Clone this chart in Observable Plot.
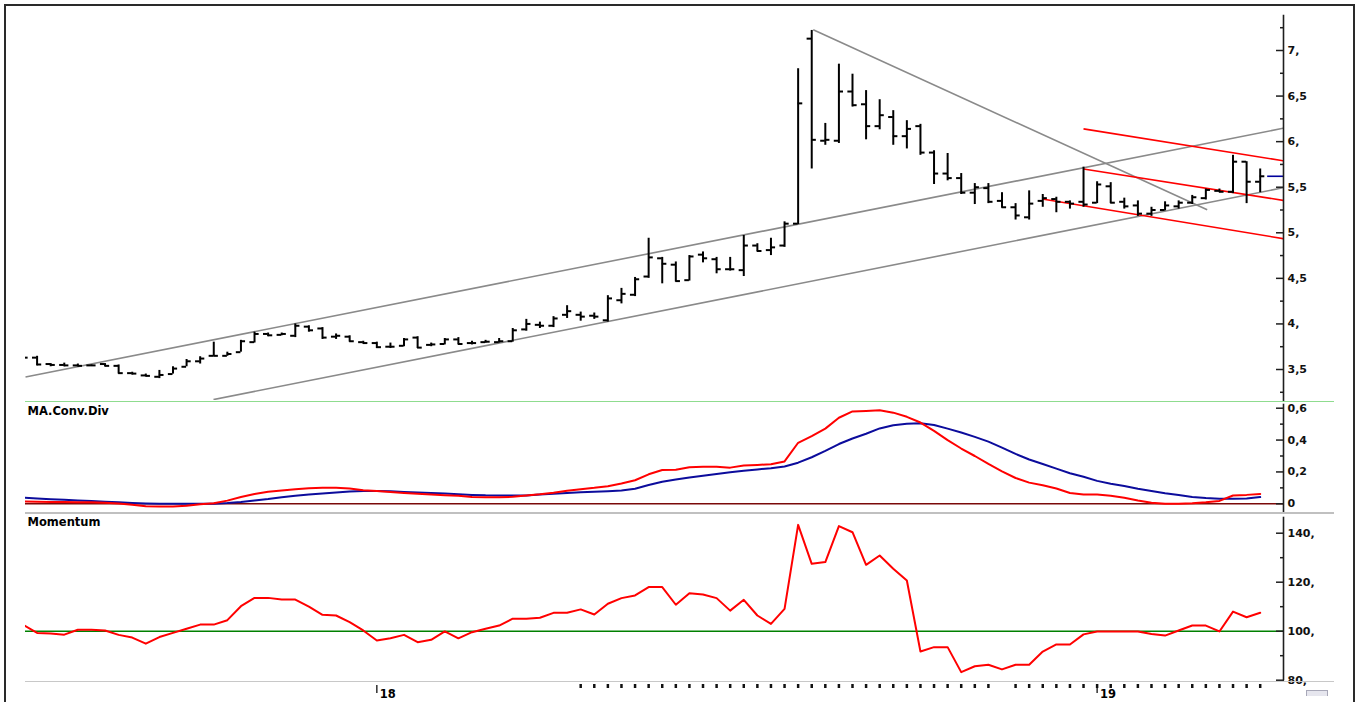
<!DOCTYPE html>
<html><head><meta charset="utf-8">
<script src="https://cdn.jsdelivr.net/npm/d3@7"></script>
<script src="https://cdn.jsdelivr.net/npm/@observablehq/plot@0.6"></script>
<style>
html,body{margin:0;padding:0;background:#fff;}
#chart{position:relative;width:1365px;height:702px;overflow:hidden;background:#fff;}
.deco{position:absolute;pointer-events:none;}
</style></head><body><div id="chart"></div>
<script>
// ---- weekly OHLC (bar index 0..91) ----
const opens = [3.66,3.63,3.56,3.55,3.545,3.545,3.56,3.54,3.46,3.435,
3.42,3.45,3.53,3.59,3.65,3.65,3.69,3.80,3.89,3.88,
3.87,3.97,3.95,3.86,3.86,3.80,3.79,3.75,3.76,3.85,
3.77,3.78,3.83,3.79,3.80,3.80,3.81,3.94,3.99,3.98,
4.10,4.10,4.09,4.04,4.26,4.32,4.52,4.72,4.65,4.48,
4.76,4.71,4.60,4.59,4.86,4.81,4.86,5.10,7.13,6.01,
6.01,6.55,6.41,6.17,6.27,6.06,6.17,5.88,5.65,5.60,
5.44,5.49,5.35,5.28,5.17,5.35,5.37,5.34,5.34,5.33,
5.51,5.34,5.30,5.21,5.25,5.29,5.33,5.38,5.46,5.45,
5.78,5.56];
const highs = [3.67,3.645,3.565,3.57,3.56,3.55,3.565,3.55,3.47,3.45,
3.49,3.53,3.61,3.64,3.80,3.69,3.82,3.91,3.90,3.90,
4.00,3.98,3.96,3.89,3.87,3.81,3.80,3.79,3.84,3.86,
3.79,3.84,3.85,3.81,3.82,3.84,3.95,4.05,4.02,4.08,
4.20,4.13,4.12,4.31,4.39,4.51,4.94,4.73,4.68,4.75,
4.79,4.73,4.73,4.97,4.88,4.94,5.12,6.80,7.22,6.20,
6.85,6.74,6.56,6.46,6.34,6.23,6.19,5.90,5.87,5.65,
5.54,5.54,5.44,5.32,5.46,5.42,5.39,5.35,5.72,5.56,
5.55,5.38,5.35,5.28,5.34,5.35,5.41,5.48,5.48,5.85,
5.78,5.70];
const lows = [3.62,3.54,3.53,3.53,3.53,3.535,3.53,3.45,3.44,3.42,
3.40,3.45,3.53,3.56,3.645,3.645,3.69,3.79,3.86,3.87,
3.85,3.91,3.83,3.83,3.80,3.78,3.73,3.73,3.75,3.73,
3.75,3.77,3.77,3.77,3.79,3.79,3.80,3.92,3.95,3.96,
4.06,4.03,4.05,4.02,4.22,4.30,4.50,4.44,4.46,4.47,
4.67,4.55,4.58,4.52,4.79,4.75,4.84,5.09,5.70,5.96,
5.98,6.38,6.02,6.13,5.96,5.92,5.85,5.53,5.57,5.42,
5.31,5.32,5.27,5.14,5.14,5.28,5.22,5.26,5.28,5.32,
5.32,5.26,5.18,5.18,5.24,5.26,5.31,5.36,5.44,5.43,
5.32,5.44];
const closes = [3.63,3.555,3.55,3.545,3.54,3.545,3.54,3.46,3.455,3.43,
3.44,3.51,3.59,3.62,3.65,3.67,3.81,3.89,3.875,3.89,
3.98,3.93,3.85,3.87,3.81,3.79,3.745,3.75,3.83,3.74,
3.775,3.83,3.78,3.79,3.805,3.81,3.93,4.00,3.98,4.06,
4.14,4.08,4.08,4.28,4.33,4.49,4.73,4.66,4.47,4.74,
4.72,4.60,4.60,4.86,4.80,4.84,5.10,6.42,6.02,6.02,
6.55,6.40,6.17,6.29,6.06,6.14,5.88,5.65,5.60,5.44,
5.50,5.34,5.28,5.19,5.32,5.38,5.34,5.32,5.31,5.53,
5.33,5.29,5.21,5.25,5.30,5.33,5.39,5.47,5.45,5.78,
5.56,5.62];

// ---- MACD (red) and signal (blue) ----
const macd = [0.015,0.013,0.012,0.011,0.010,0.009,0.007,0.002,-0.006,-0.015,
-0.017,-0.017,-0.012,-0.003,0.004,0.02,0.043,0.062,0.075,0.084,
0.092,0.098,0.1,0.1,0.096,0.085,0.08,0.074,0.068,0.063,
0.058,0.054,0.05,0.042,0.041,0.041,0.044,0.052,0.06,0.07,
0.082,0.092,0.1,0.11,0.128,0.148,0.185,0.212,0.214,0.23,
0.233,0.233,0.227,0.24,0.244,0.248,0.266,0.383,0.425,0.472,
0.54,0.58,0.583,0.587,0.572,0.546,0.51,0.458,0.40,0.347,
0.3,0.25,0.204,0.162,0.133,0.116,0.096,0.068,0.058,0.058,
0.05,0.038,0.021,0.007,0.001,0,0.004,0.01,0.018,0.052,
0.056,0.062];
const signal = [0.038,0.033,0.029,0.025,0.021,0.017,0.013,0.009,0.005,0.002,
0,0,0,0,0.001,0.005,0.012,0.021,0.03,0.041,
0.05,0.058,0.065,0.071,0.077,0.08,0.08,0.078,0.074,0.071,
0.068,0.064,0.06,0.056,0.053,0.052,0.052,0.052,0.058,0.063,
0.068,0.072,0.075,0.079,0.084,0.095,0.118,0.138,0.152,0.165,
0.176,0.187,0.198,0.208,0.216,0.223,0.234,0.258,0.292,0.332,
0.375,0.41,0.44,0.473,0.493,0.502,0.506,0.495,0.472,0.447,
0.42,0.39,0.353,0.313,0.278,0.25,0.221,0.192,0.17,0.144,
0.126,0.112,0.095,0.081,0.066,0.055,0.043,0.036,0.031,0.031,
0.034,0.042];

// ---- Momentum ----
const momentum = [102.5,99.3,99.1,98.6,100.6,100.6,100.3,98.5,97.4,94.9,
97.6,99.3,101,102.7,102.7,104.5,110.2,113.6,113.6,112.9,
112.9,110,106.7,106.4,103.7,100.3,96.2,97.1,98.5,95.5,
96.5,99.9,97.1,99.6,101,102.3,105.1,105.1,105.5,107.5,
107.5,108.9,106.8,111.2,113.5,114.6,118,118,110.8,115.5,
115,113.5,108.4,112.8,106.4,103,109.1,143.4,127.5,128.2,
142.9,140.4,127.1,130.9,125.5,120.7,91.7,93.5,93.5,83.3,
85.7,86.3,84.4,86.3,86.3,91.7,94.6,94.6,98.7,99.9,
99.9,99.9,99.9,98.9,98.2,100.3,102.3,102.3,99.9,108,
105.7,107.5];

// ---- trend lines: [startIndex, startPrice, endIndex, endPrice] ----
const grayTrends = [
  [0.15, 3.418, 92.72, 6.148],
  [13.98, 3.17, 92.72, 5.495],
  [58.11, 7.227, 87.1, 5.253]
];
const redTrends = [
  [78.0, 6.14, 92.72, 5.79],
  [78.0, 5.70, 92.72, 5.355],
  [74.96, 5.37, 92.72, 4.935]
];

// ---- ticks ----
const priceTicks = [3.5,4,4.5,5,5.5,6,6.5,7];
const priceMinor = [3.25,3.75,4.25,4.75,5.25,5.75,6.25,6.75,7.25];
const macdTicks = [0,0.2,0.4,0.6];
const macdMinor = [0.1,0.3,0.5];
const momTicks = [80,100,120,140];
const momMinor = [90,110,130];
const weekTicks = [41,42,43,44,45,46,47,48,49,50,51,52,53,54,55,56,57,58,59,60,61,62,63,64,65,66,67,68,69,70,71,
  73,74,75,76,77,78,79,80,81,82,83,84,85,86,87,88,89,90,91];
const yearIdx = [26, 79];
const yearLabels = ["18", "19"];

// ---- build tables ----
const bars = closes.map((c, i) => ({i, open: opens[i], high: highs[i], low: lows[i], close: c}));
const macdRows = macd.map((v, i) => ({i, v}));
const sigRows = signal.map((v, i) => ({i, v}));
const momRows = momentum.map((v, i) => ({i, v}));
const toLink = t => ({i1: t[0], p1: t[1], i2: t[2], p2: t[3]});
const grayLinks = grayTrends.map(toLink);
const redLinks = redTrends.map(toLink);
const years = yearIdx.map((i, k) => ({i, label: yearLabels[k]}));
const last = bars[bars.length - 1];

const fmtPrice = d => Number.isInteger(d) ? `${d},` : String(d).replace(".", ",");
const fmtMacd = d => d === 0 ? "0" : d.toFixed(1).replace(".", ",");
const fmtMom = d => `${d},`;

const FONT = "'DejaVu Sans', Verdana, sans-serif";
const baseStyle = {position: "absolute", left: "0px", background: "transparent",
  fontFamily: FONT, fontSize: "11px", fontWeight: "bold", color: "#000"};
const X = {type: "linear", domain: [0, 91], range: [23, 1259.7], axis: null};
const AX = "#1e1e1e";

function rightAxis(major, minor, fmt) {
  return [
    Plot.frame({anchor: "right", stroke: AX, strokeWidth: 1.6}),
    Plot.axisY(minor, {anchor: "right", label: null, tickSize: 4, insetRight: 4, tickPadding: 0, tickFormat: () => "", stroke: AX, strokeWidth: 1.5}),
    Plot.axisY(major, {anchor: "right", label: null, tickSize: 8, insetRight: 8, tickPadding: 4, tickFormat: fmt, stroke: AX, strokeWidth: 1.5, fill: "#111"})
  ];
}

const chart = document.getElementById("chart");

// Panel 1: price
const p1 = Plot.plot({
  width: 1365, height: 402,
  marginLeft: 25, marginRight: 82, marginTop: 15, marginBottom: 2,
  style: {...baseStyle, top: "0px"},
  x: X,
  y: {domain: [3.5, 7], range: [369, 50], label: null},
  marks: [
    Plot.link(grayLinks, {x1: "i1", y1: "p1", x2: "i2", y2: "p2", stroke: "#8a8a8a", strokeWidth: 1.6, clip: true}),
    Plot.link(redLinks, {x1: "i1", y1: "p1", x2: "i2", y2: "p2", stroke: "#ff0000", strokeWidth: 1.6, clip: true}),
    Plot.ruleX(bars, {x: "i", y1: "low", y2: "high", stroke: "#000", strokeWidth: 2, clip: true}),
    Plot.ruleY(bars, {y: "open", x1: d => d.i - 0.34, x2: "i", stroke: "#000", strokeWidth: 2, clip: true}),
    Plot.ruleY(bars, {y: "close", x1: "i", x2: d => d.i + 0.34, stroke: "#000", strokeWidth: 2, clip: true}),
    Plot.ruleY([last], {y: "close", x1: d => d.i + 0.55, x2: d => d.i + 1.72, stroke: "#00009c", strokeWidth: 1.6}),
    ...rightAxis(priceTicks, priceMinor, fmtPrice)
  ]
});
chart.appendChild(p1);

// Panel 2: MACD
const p2 = Plot.plot({
  width: 1365, height: 112,
  marginLeft: 25, marginRight: 82, marginTop: 2, marginBottom: 3,
  style: {...baseStyle, top: "402px"},
  x: X,
  y: {domain: [0, 0.6], range: [101.3, 5.7], label: null},
  marks: [
    Plot.ruleY([0], {stroke: "#7a0a0a", strokeWidth: 1.6}),
    Plot.line(sigRows, {x: "i", y: "v", stroke: "#0c0c9c", strokeWidth: 2, clip: true}),
    Plot.line(macdRows, {x: "i", y: "v", stroke: "#ff0000", strokeWidth: 2, clip: true}),
    Plot.text(["MA.Conv.Div"], {text: d => d, frameAnchor: "top-left", textAnchor: "start", lineAnchor: "top", dx: 2, dy: 2, fontSize: 11.5, fill: "#000"}),
    ...rightAxis(macdTicks, macdMinor, fmtMacd)
  ]
});
chart.appendChild(p2);

// Panel 3: Momentum (SVG a little taller than its frame so the "80," label is whole)
const p3 = Plot.plot({
  width: 1365, height: 174,
  marginLeft: 25, marginRight: 82, marginTop: 3, marginBottom: 9,
  style: {...baseStyle, top: "514px"},
  x: X,
  y: {domain: [100, 140], range: [116.7, 18.7], label: null},
  marks: [
    Plot.ruleY([100], {stroke: "#008000", strokeWidth: 1.6}),
    Plot.line(momRows, {x: "i", y: "v", stroke: "#ff0000", strokeWidth: 2, clip: true}),
    Plot.text(["Momentum"], {text: d => d, frameAnchor: "top-left", textAnchor: "start", lineAnchor: "top", dx: 2, dy: 0, fontSize: 11.5, fill: "#000"}),
    ...rightAxis(momTicks, momMinor, fmtMom)
  ]
});
chart.appendChild(p3);

// Panel 4: time axis
const p4 = Plot.plot({
  width: 1365, height: 21,
  marginLeft: 25, marginRight: 82, marginTop: 3, marginBottom: 14,
  style: {...baseStyle, top: "681px"},
  x: X,
  marks: [
    Plot.ruleX(weekTicks, {stroke: "#111", strokeWidth: 2.5}),
    Plot.ruleX(years, {x: "i", stroke: "#111", strokeWidth: 1.3, insetTop: 1, insetBottom: -5}),
    Plot.text(years, {x: "i", text: "label", frameAnchor: "bottom", textAnchor: "start", lineAnchor: "top", dx: 3, dy: 1, fontSize: 11.5, fill: "#000"})
  ]
});
chart.appendChild(p4);

// separators and outer frame (decoration)
function deco(css) { const d = document.createElement("div"); d.className = "deco"; Object.assign(d.style, css); chart.appendChild(d); }
deco({left: "25px", top: "400.6px", width: "1309px", height: "1.8px", background: "#8fdc8f"});
deco({left: "25px", top: "512.4px", width: "1309px", height: "1.6px", background: "#c0c0c0"});
deco({left: "25px", top: "680.6px", width: "1309px", height: "1.6px", background: "#c8c8c8"});
deco({left: "1306px", top: "690px", width: "20px", height: "5px", background: "#e6e6ee", borderTop: "1px solid #a8a8b8", borderLeft: "1px solid #a8a8b8", borderRight: "1px solid #a8a8b8"});
deco({left: "4px", top: "4px", width: "1347px", height: "800px", border: "2px solid #2a2a2a", zIndex: 5});
</script></body></html>
